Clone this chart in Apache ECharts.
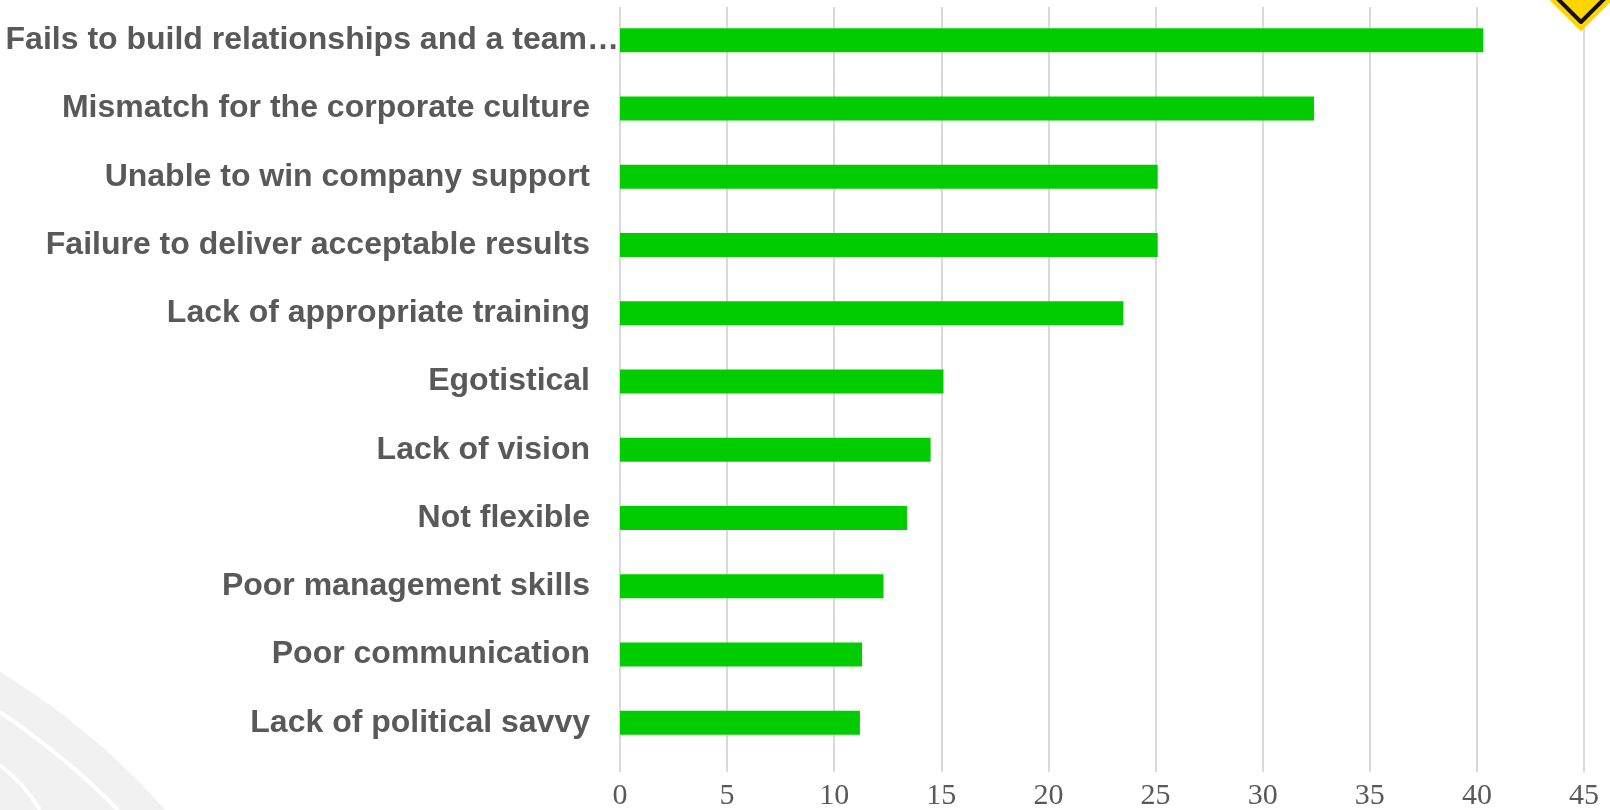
<!DOCTYPE html>
<html>
<head>
<meta charset="utf-8">
<script src="https://cdn.jsdelivr.net/npm/echarts@6/dist/echarts.min.js"></script>
<style>html,body{margin:0;padding:0;background:#fff}#chart{width:1610px;height:810px}</style>
</head>
<body>
<div id="chart"></div>
<script>
const categories = [
  "Fails to build relationships and a team\u2026",
  "Mismatch for the corporate culture",
  "Unable to win company support",
  "Failure to deliver acceptable results",
  "Lack of appropriate training",
  "Egotistical",
  "Lack of vision",
  "Not flexible",
  "Poor management skills",
  "Poor communication",
  "Lack of political savvy"
];
const values = [40.3, 32.4, 25.1, 25.1, 23.5, 15.1, 14.5, 13.4, 12.3, 11.3, 11.2];
const tickMin = 0, tickMax = 45, tickStep = 5;

// decorative swoosh outline (quadratic curve sampled)
function quad(p0, c, p1, n) {
  const pts = [];
  for (let i = 0; i <= n; i++) {
    const t = i / n;
    pts.push([(1-t)*(1-t)*p0[0] + 2*(1-t)*t*c[0] + t*t*p1[0],
              (1-t)*(1-t)*p0[1] + 2*(1-t)*t*c[1] + t*t*p1[1]]);
  }
  return pts;
}
const swoosh = quad([0,672],[95,730],[165,810],20).concat([[0,810]]);

const chart = echarts.init(document.getElementById('chart'));
chart.setOption({
  backgroundColor: '#ffffff',
  animation: false,
  graphic: [
    { type: 'polygon', z: -10, shape: { points: swoosh }, style: { fill: '#f1f1f1' } },
    { type: 'bezierCurve', z: -9, shape: { x1: 0, y1: 712, cpx1: 70, cpy1: 760, x2: 118, y2: 810 }, style: { fill: null, stroke: '#ffffff', lineWidth: 4 } },
    { type: 'bezierCurve', z: -9, shape: { x1: 0, y1: 765, cpx1: 25, cpy1: 785, x2: 40, y2: 810 }, style: { fill: null, stroke: '#ffffff', lineWidth: 4 } },
    { type: 'polygon', z: 10, shape: { points: [[1519,-32],[1581,30],[1643,-32],[1581,-94]] }, style: { fill: '#FFD500', stroke: '#FFD500', lineWidth: 2, lineJoin: 'round' } },
    { type: 'polygon', z: 11, shape: { points: [[1527,-32],[1581,22],[1635,-32],[1581,-86]] }, style: { fill: null, stroke: '#111111', lineWidth: 4, lineJoin: 'round' } }
  ],
  grid: [
    { left: 620, right: 26, top: 7, bottom: 38, outerBoundsMode: 'none', containLabel: false },
    { left: 620, right: 26, top: 6, height: 751, outerBoundsMode: 'none', containLabel: false }
  ],
  xAxis: [
    {
      gridIndex: 0, type: 'value', min: tickMin, max: tickMax, interval: tickStep,
      axisLine: { show: false }, axisTick: { show: false },
      splitLine: { show: true, lineStyle: { color: '#d9d9d9', width: 2 } },
      axisLabel: { color: '#595959', fontFamily: 'Liberation Serif', fontSize: 30, margin: 9 }
    },
    {
      gridIndex: 1, type: 'value', min: tickMin, max: tickMax, interval: tickStep,
      show: false, splitLine: { show: false }
    }
  ],
  yAxis: [
    {
      gridIndex: 0, type: 'category', data: categories, show: false
    },
    {
      gridIndex: 1, type: 'category', data: categories, inverse: true,
      axisLine: { show: false }, axisTick: { show: false }, splitLine: { show: false },
      axisLabel: {
        color: '#595959', fontFamily: 'Liberation Sans', fontWeight: 'bold', fontSize: 32, margin: 30,
        formatter: function (v, i) { return i === 0 ? '{f|' + v + '}' : v; },
        rich: { f: { color: '#595959', fontFamily: 'Liberation Sans', fontWeight: 'bold', fontSize: 32, padding: [0, -29, 0, 0] } }
      }
    }
  ],
  series: [{
    type: 'bar', xAxisIndex: 1, yAxisIndex: 1,
    data: values, barWidth: 24,
    itemStyle: { color: '#00CC00' }
  }]
});
</script>
</body>
</html>
